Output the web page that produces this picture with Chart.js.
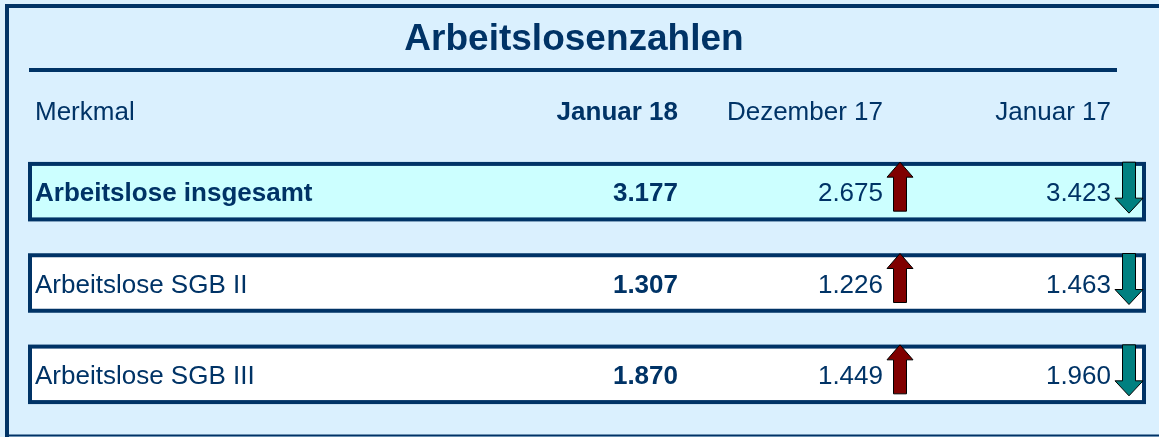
<!DOCTYPE html>
<html>
<head>
<meta charset="utf-8">
<script src="https://cdn.jsdelivr.net/npm/chart.js@4/dist/chart.umd.min.js"></script>
<style>
  body { margin: 0; background: #daf0fe; }
  canvas { display: block; }
</style>
</head>
<body>
<canvas id="tabelle" width="1159" height="437"></canvas>
<script>
// Werte aus der Tabelle
const titel = 'Arbeitslosenzahlen';
const spalten = ['Merkmal', 'Januar 18', 'Dezember 17', 'Januar 17'];
const merkmale = ['Arbeitslose insgesamt', 'Arbeitslose SGB II', 'Arbeitslose SGB III'];
const januar18 = [3177, 1307, 1870];
const dezember17 = [2675, 1226, 1449];
const januar17 = [3423, 1463, 1960];

const dunkelblau = '#003366';
const schrift = '"Liberation Sans", Arial, sans-serif';

function fmt(v) {
  return String(v).replace(/\B(?=(\d{3})+(?!\d))/g, '.');
}

// Pfeil: hoch = rot, runter = petrol
function pfeil(ctx, cx, top, bottom, hoch) {
  const schaft = 6.5, kopf = hoch ? 13 : 14, kh = 15;
  ctx.beginPath();
  if (hoch) {
    ctx.moveTo(cx, top);
    ctx.lineTo(cx + kopf, top + kh);
    ctx.lineTo(cx + schaft, top + kh);
    ctx.lineTo(cx + schaft, bottom);
    ctx.lineTo(cx - schaft, bottom);
    ctx.lineTo(cx - schaft, top + kh);
    ctx.lineTo(cx - kopf, top + kh);
  } else {
    ctx.moveTo(cx, bottom);
    ctx.lineTo(cx + kopf, bottom - kh);
    ctx.lineTo(cx + schaft, bottom - kh);
    ctx.lineTo(cx + schaft, top);
    ctx.lineTo(cx - schaft, top);
    ctx.lineTo(cx - schaft, bottom - kh);
    ctx.lineTo(cx - kopf, bottom - kh);
  }
  ctx.closePath();
  ctx.fillStyle = hoch ? '#800000' : '#008080';
  ctx.fill();
  ctx.lineWidth = 1;
  ctx.strokeStyle = '#000';
  ctx.stroke();
}

const tabellePlugin = {
  id: 'tabelle',
  beforeDraw(chart) {
    const ctx = chart.ctx;
    ctx.save();
    ctx.fillStyle = '#daf0fe';
    ctx.fillRect(0, 0, chart.width, chart.height);

    // Rahmen
    ctx.strokeStyle = dunkelblau;
    ctx.lineWidth = 4;
    ctx.beginPath();
    ctx.moveTo(5, 6); ctx.lineTo(chart.width, 6);
    ctx.moveTo(7, 4); ctx.lineTo(7, chart.height);
    ctx.stroke();
    ctx.lineWidth = 2;
    ctx.beginPath();
    ctx.moveTo(5, 435.5); ctx.lineTo(chart.width, 435.5);
    ctx.stroke();

    // Titel
    ctx.fillStyle = dunkelblau;
    ctx.textAlign = 'center';
    ctx.textBaseline = 'alphabetic';
    ctx.font = 'bold 37px ' + schrift;
    ctx.fillText(titel, 574, 50);
    ctx.lineWidth = 4;
    ctx.beginPath();
    ctx.moveTo(29, 70); ctx.lineTo(1117, 70);
    ctx.stroke();

    // Kopfzeile
    const rechts = [678, 883, 1111];
    ctx.font = '26px ' + schrift;
    ctx.textAlign = 'left';
    ctx.fillText(spalten[0], 35, 120);
    ctx.textAlign = 'right';
    ctx.font = 'bold 26px ' + schrift;
    ctx.fillText(spalten[1], rechts[0], 120);
    ctx.font = '26px ' + schrift;
    ctx.fillText(spalten[2], rechts[1], 120);
    ctx.fillText(spalten[3], rechts[2], 120);
    ctx.restore();
  },
  afterDraw(chart) {
    const ctx = chart.ctx;
    const y = chart.scales.y;
    const area = chart.chartArea;
    const rechts = [678, 883, 1111];
    ctx.save();
    merkmale.forEach((name, i) => {
      const c = y.getPixelForValue(i);
      const erste = i === 0;

      // Zeilenkasten
      ctx.fillStyle = erste ? '#ccffff' : '#ffffff';
      ctx.fillRect(area.left, c - 27.75, area.right - area.left, 55.5);
      ctx.strokeStyle = dunkelblau;
      ctx.lineWidth = 4;
      ctx.strokeRect(area.left, c - 27.75, area.right - area.left, 55.5);

      // Texte
      ctx.fillStyle = dunkelblau;
      ctx.textBaseline = 'alphabetic';
      ctx.textAlign = 'left';
      ctx.font = (erste ? 'bold ' : '') + '26px ' + schrift;
      ctx.fillText(name, 35, c + 9.5);

      ctx.textAlign = 'right';
      ctx.font = 'bold 26px ' + schrift;
      ctx.fillText(fmt(januar18[i]), rechts[0], c + 9.5);
      ctx.font = '26px ' + schrift;
      ctx.fillText(fmt(dezember17[i]), rechts[1], c + 9.5);
      ctx.fillText(fmt(januar17[i]), rechts[2], c + 9.5);

      // Veränderungspfeile
      pfeil(ctx, rechts[1] + 17, c - 29.5, c + 19.5, januar18[i] > dezember17[i]);
      pfeil(ctx, rechts[2] + 18, c - 29.5, c + 21.5, januar18[i] > januar17[i]);
    });
    ctx.restore();
  }
};

new Chart(document.getElementById('tabelle'), {
  type: 'bar',
  data: {
    labels: merkmale,
    datasets: [{
      label: spalten[1],
      data: januar18,
      backgroundColor: 'rgba(0,0,0,0)',
      borderWidth: 0
    }]
  },
  options: {
    indexAxis: 'y',
    responsive: false,
    animation: false,
    layout: { padding: { top: 146, bottom: 17, left: 30, right: 15 } },
    plugins: {
      legend: { display: false },
      tooltip: { enabled: false }
    },
    scales: {
      x: { display: false, min: 0 },
      y: { display: false }
    }
  },
  plugins: [tabellePlugin]
});
</script>
</body>
</html>
